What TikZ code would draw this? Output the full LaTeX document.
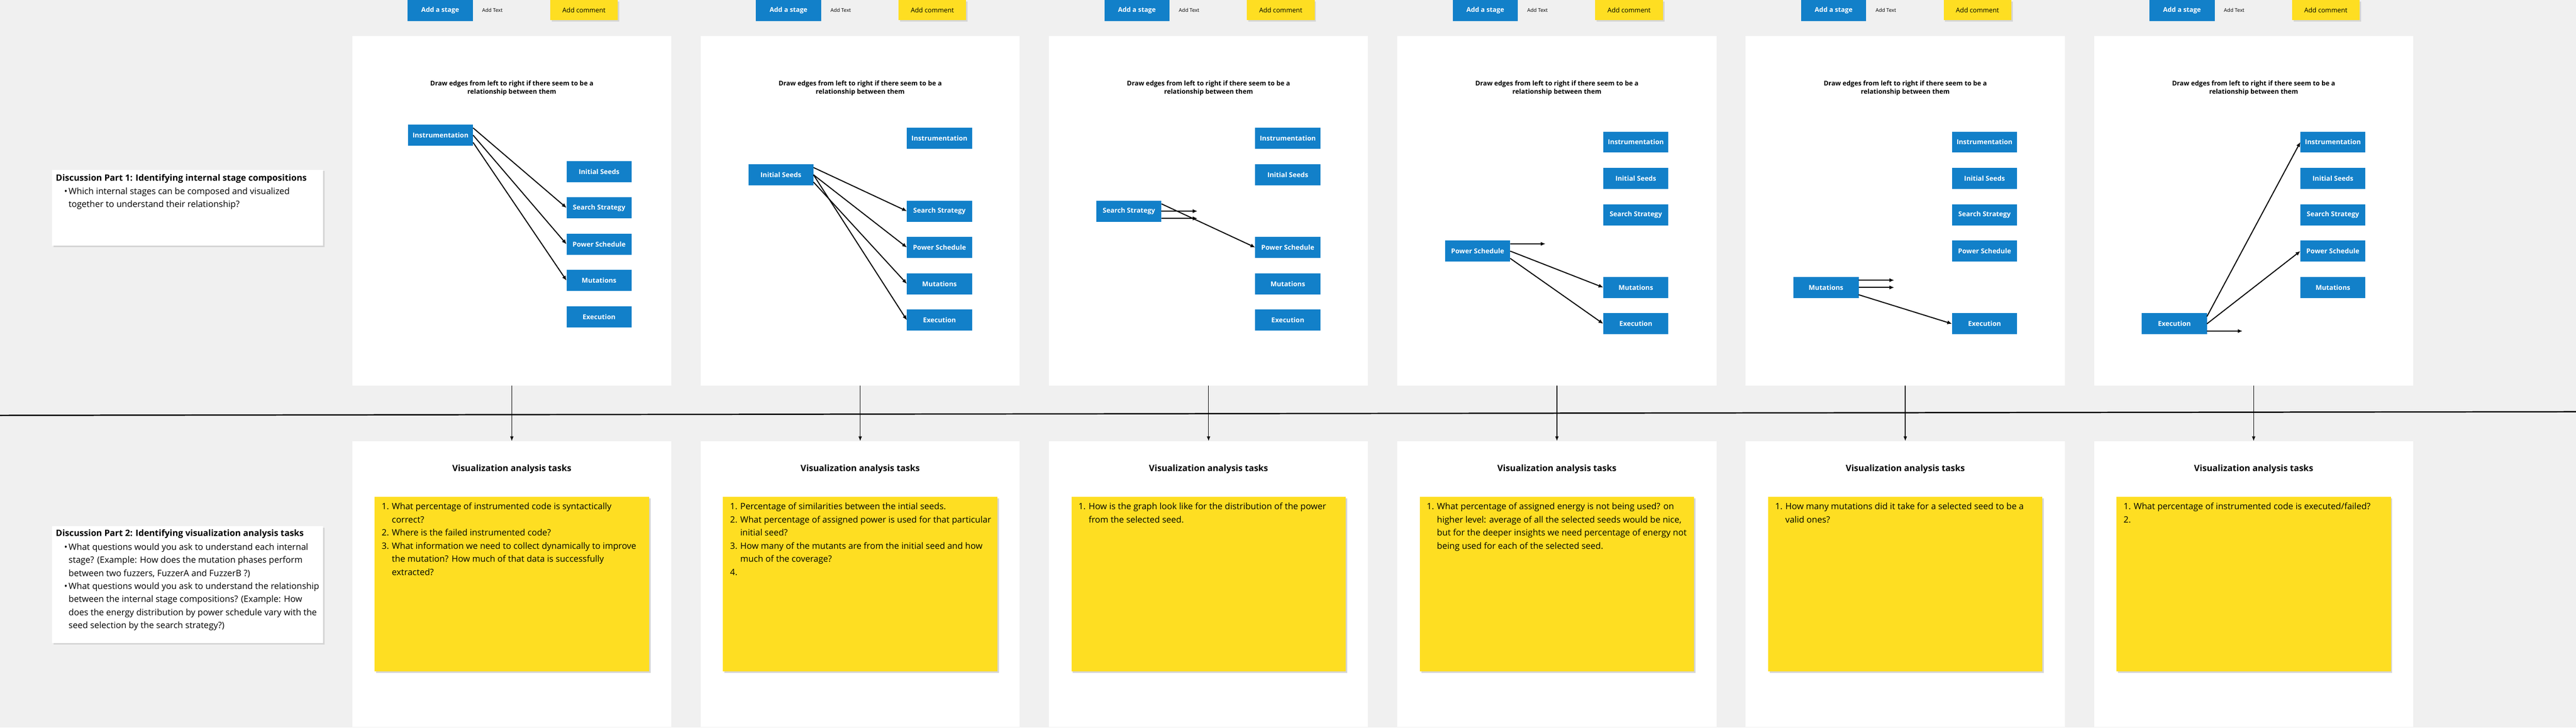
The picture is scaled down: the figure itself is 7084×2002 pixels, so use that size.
\documentclass[tikz,border=0pt]{standalone}
\usepackage{fontspec}
\setmainfont{Open Sans}
\usetikzlibrary{arrows.meta,shadows}

\definecolor{boardgray}{HTML}{F0F0F0}
\definecolor{stageblue}{HTML}{1280C9}
\definecolor{stickyyellow}{HTML}{FEDE22}
\definecolor{shadowgray}{HTML}{D5D5D5}

% hanging indents for the numbered and bulleted lines
\newcommand{\itm}[1]{\makebox[0.28cm][l]{#1}}
\newcommand{\indt}{\hspace*{0.28cm}}
\newcommand{\bul}{\makebox[0.12cm][l]{•}}
\newcommand{\bind}{\hspace*{0.12cm}}

\tikzset{
  panel/.style={fill=white, minimum width=8.77cm, inner sep=0pt, outer sep=0pt},
  stagebox/.style={fill=stageblue, text=white, font=\bfseries\fontsize{5.26pt}{6pt}\selectfont,
    minimum width=1.79cm, minimum height=0.58cm, inner sep=0pt, outer sep=0pt},
  addstage/.style={stagebox, font=\bfseries\fontsize{5.12pt}{6pt}\selectfont},
  addtext/.style={font=\fontsize{3.98pt}{5pt}\selectfont, inner sep=0pt},
  addcomment/.style={fill=stickyyellow, minimum width=1.86cm, minimum height=0.55cm, inner sep=0pt,
    font=\fontsize{5.12pt}{6pt}\selectfont,
    drop shadow={shadow xshift=0.04cm, shadow yshift=-0.04cm, fill=shadowgray, opacity=1}},
  hint/.style={font=\bfseries\fontsize{5.12pt}{6.54pt}\selectfont, align=center, inner sep=0pt},
  edge/.style={line width=0.8pt, -{Latex[length=0.13cm,width=0.11cm]}},
  flow/.style={line width=0.55pt, -{Latex[length=0.13cm,width=0.1cm]}},
  tasktitle/.style={font=\bfseries\fontsize{6.83pt}{8pt}\selectfont, inner sep=0pt},
  sticky/.style={fill=stickyyellow, minimum width=7.54cm, minimum height=4.79cm, inner sep=0pt,
    drop shadow={shadow xshift=0.04cm, shadow yshift=-0.04cm, fill=shadowgray, opacity=1}},
  note/.style={font=\fontsize{6.83pt}{10.243pt}\selectfont, align=left, anchor=north west, inner sep=0pt},
  discbox/.style={fill=white, minimum width=7.45cm, inner sep=0pt,
    drop shadow={shadow xshift=0.04cm, shadow yshift=-0.04cm, fill=shadowgray, opacity=1}},
  disctitle/.style={font=\bfseries\fontsize{6.83pt}{8pt}\selectfont, anchor=west, inner sep=0pt}
}

\begin{document}
\begin{tikzpicture}[x=0.01cm,y=-0.01cm]
\fill[boardgray] (0,0) rectangle (7084,2002);
\useasboundingbox (0,0) rectangle (7084,2002);

% line between the two rows
\draw[line width=1pt] (0,1143) -- (7084,1133);

% discussion notes on the left
\node[discbox, minimum height=2.09cm] (disc1) at (515.5,571.5) {};
\node[disctitle] (disc1title) at (153,491) {Discussion Part 1: Identifying internal stage compositions};
\node[note] (disc1text) at (176,515.4) {\bul Which internal stages can be composed and visualized\\
  \bind together to understand their relationship?};
\node[discbox, minimum height=3.21cm] (disc2) at (515.5,1608.5) {};
\node[disctitle] (disc2title) at (153,1469.5) {Discussion Part 2: Identifying visualization analysis tasks};
\node[note] (disc2text) at (176,1494.4) {\bul What questions would you ask to understand each internal\\
  \bind stage? (Example: How does the mutation phases perform\\
  \bind between two fuzzers, FuzzerA and FuzzerB ?)\\
  \bul What questions would you ask to understand the relationship\\
  \bind between the internal stage compositions? (Example: How\\
  \bind does the energy distribution by power schedule vary with the\\
  \bind seed selection by the search strategy?)};

% stage 1: instrumentation
\node[panel, minimum height=9.61cm] (top1) at (1407.5,580.5) {};
\node[panel, minimum height=7.86cm] (bottom1) at (1407.5,1607) {};
\node[addstage] (stagebtn1) at (1210.5,29) {Add a stage};
\node[addtext] (textbtn1) at (1354,28) {Add Text};
\node[addcomment] (commentbtn1) at (1606,27.5) {Add comment};
\node[hint] (hint1) at (1407.5,242) {Draw edges from left to right if there seem to be a\\relationship between them};
\node[stagebox] (ins1) at (1211.5,372) {Instrumentation};
\node[stagebox] (seed1) at (1647.5,472) {Initial Seeds};
\node[stagebox] (search1) at (1647.5,572) {Search Strategy};
\node[stagebox] (power1) at (1647.5,672) {Power Schedule};
\node[stagebox] (mut1) at (1647.5,772) {Mutations};
\node[stagebox] (exec1) at (1647.5,872) {Execution};
\draw[edge] ([yshift=2mm]ins1.east) -- (search1.west);
\draw[edge] (ins1.east) -- (power1.west);
\draw[edge] ([yshift=-2mm]ins1.east) -- (mut1.west);
\draw[flow] (top1.south) -- (bottom1.north);
\node[tasktitle] (tasks1) at (1407.5,1291) {Visualization analysis tasks};
\node[sticky] (sticky1) at (1407.5,1607.5) {};
\node[note] (note1) at (1049,1383.4) {\itm{1.}What percentage of instrumented code is syntactically\\
  \indt correct?\\
  \itm{2.}Where is the failed instrumented code?\\
  \itm{3.}What information we need to collect dynamically to improve\\
  \indt the mutation? How much of that data is successfully\\
  \indt extracted?};

% stage 2: initial seeds
\node[panel, minimum height=9.61cm] (top2) at (2365.5,580.5) {};
\node[panel, minimum height=7.86cm] (bottom2) at (2365.5,1607) {};
\node[addstage] (stagebtn2) at (2168.5,29) {Add a stage};
\node[addtext] (textbtn2) at (2312,28) {Add Text};
\node[addcomment] (commentbtn2) at (2564,27.5) {Add comment};
\node[hint] (hint2) at (2365.5,242) {Draw edges from left to right if there seem to be a\\relationship between them};
\node[stagebox] (ins2) at (2583.5,381) {Instrumentation};
\node[stagebox] (seed2) at (2147.5,481) {Initial Seeds};
\node[stagebox] (search2) at (2583.5,581) {Search Strategy};
\node[stagebox] (power2) at (2583.5,681) {Power Schedule};
\node[stagebox] (mut2) at (2583.5,781) {Mutations};
\node[stagebox] (exec2) at (2583.5,881) {Execution};
\draw[edge] ([yshift=2mm]seed2.east) -- (search2.west);
\draw[edge] (seed2.east) -- (power2.west);
\draw[edge] (seed2.east) -- (exec2.west);
\draw[edge] ([yshift=-2mm]seed2.east) -- (mut2.west);
\draw[flow] (top2.south) -- (bottom2.north);
\node[tasktitle] (tasks2) at (2365.5,1291) {Visualization analysis tasks};
\node[sticky] (sticky2) at (2365.5,1607.5) {};
\node[note] (note2) at (2007,1383.4) {\itm{1.}Percentage of similarities between the intial seeds.\\
  \itm{2.}What percentage of assigned power is used for that particular\\
  \indt initial seed?\\
  \itm{3.}How many of the mutants are from the initial seed and how\\
  \indt much of the coverage?\\
  \itm{4.}};

% stage 3: search strategy
\node[panel, minimum height=9.61cm] (top3) at (3323.5,580.5) {};
\node[panel, minimum height=7.86cm] (bottom3) at (3323.5,1607) {};
\node[addstage] (stagebtn3) at (3126.5,29) {Add a stage};
\node[addtext] (textbtn3) at (3270,28) {Add Text};
\node[addcomment] (commentbtn3) at (3522,27.5) {Add comment};
\node[hint] (hint3) at (3323.5,242) {Draw edges from left to right if there seem to be a\\relationship between them};
\node[stagebox] (ins3) at (3541.5,381) {Instrumentation};
\node[stagebox] (seed3) at (3541.5,481) {Initial Seeds};
\node[stagebox] (search3) at (3104.5,581) {Search Strategy};
\node[stagebox] (power3) at (3541.5,681) {Power Schedule};
\node[stagebox] (mut3) at (3541.5,781) {Mutations};
\node[stagebox] (exec3) at (3541.5,881) {Execution};
\coordinate (loose3a) at (3293,581);
\coordinate (loose3b) at (3293,601);
\draw[edge] ([yshift=2mm]search3.east) -- (power3.west);
\draw[edge] (search3.east) -- (loose3a);
\draw[edge] ([yshift=-2mm]search3.east) -- (loose3b);
\draw[flow] (top3.south) -- (bottom3.north);
\node[tasktitle] (tasks3) at (3323.5,1291) {Visualization analysis tasks};
\node[sticky] (sticky3) at (3323.5,1607.5) {};
\node[note] (note3) at (2965,1383.4) {\itm{1.}How is the graph look like for the distribution of the power\\
  \indt from the selected seed.};

% stage 4: power schedule
\node[panel, minimum height=9.61cm] (top4) at (4281.5,580.5) {};
\node[panel, minimum height=7.86cm] (bottom4) at (4281.5,1607) {};
\node[addstage] (stagebtn4) at (4084.5,29) {Add a stage};
\node[addtext] (textbtn4) at (4228,28) {Add Text};
\node[addcomment] (commentbtn4) at (4480,27.5) {Add comment};
\node[hint] (hint4) at (4281.5,242) {Draw edges from left to right if there seem to be a\\relationship between them};
\node[stagebox] (ins4) at (4498.5,391) {Instrumentation};
\node[stagebox] (seed4) at (4498.5,491) {Initial Seeds};
\node[stagebox] (search4) at (4498.5,591) {Search Strategy};
\node[stagebox] (power4) at (4063.5,691) {Power Schedule};
\node[stagebox] (mut4) at (4498.5,791) {Mutations};
\node[stagebox] (exec4) at (4498.5,891) {Execution};
\coordinate (loose4) at (4250,671);
\draw[edge] ([yshift=2mm]power4.east) -- (loose4);
\draw[edge] (power4.east) -- (mut4.west);
\draw[edge] ([yshift=-2mm]power4.east) -- (exec4.west);
\draw[flow] (top4.south) -- (bottom4.north);
\node[tasktitle] (tasks4) at (4281.5,1291) {Visualization analysis tasks};
\node[sticky] (sticky4) at (4281.5,1607.5) {};
\node[note] (note4) at (3923,1383.4) {\itm{1.}What percentage of assigned energy is not being used? on\\
  \indt higher level: average of all the selected seeds would be nice,\\
  \indt but for the deeper insights we need percentage of energy not\\
  \indt being used for each of the selected seed.};

% stage 5: mutations
\node[panel, minimum height=9.61cm] (top5) at (5239.5,580.5) {};
\node[panel, minimum height=7.86cm] (bottom5) at (5239.5,1607) {};
\node[addstage] (stagebtn5) at (5042.5,29) {Add a stage};
\node[addtext] (textbtn5) at (5186,28) {Add Text};
\node[addcomment] (commentbtn5) at (5438,27.5) {Add comment};
\node[hint] (hint5) at (5239.5,242) {Draw edges from left to right if there seem to be a\\relationship between them};
\node[stagebox] (ins5) at (5457.5,391) {Instrumentation};
\node[stagebox] (seed5) at (5457.5,491) {Initial Seeds};
\node[stagebox] (search5) at (5457.5,591) {Search Strategy};
\node[stagebox] (power5) at (5457.5,691) {Power Schedule};
\node[stagebox] (mut5) at (5021.5,791) {Mutations};
\node[stagebox] (exec5) at (5457.5,891) {Execution};
\coordinate (loose5a) at (5209,771);
\coordinate (loose5b) at (5209,791);
\draw[edge] ([yshift=2mm]mut5.east) -- (loose5a);
\draw[edge] (mut5.east) -- (loose5b);
\draw[edge] ([yshift=-2mm]mut5.east) -- (exec5.west);
\draw[flow] (top5.south) -- (bottom5.north);
\node[tasktitle] (tasks5) at (5239.5,1291) {Visualization analysis tasks};
\node[sticky] (sticky5) at (5239.5,1607.5) {};
\node[note] (note5) at (4881,1383.4) {\itm{1.}How many mutations did it take for a selected seed to be a\\
  \indt valid ones?};

% stage 6: execution
\node[panel, minimum height=9.61cm] (top6) at (6197.5,580.5) {};
\node[panel, minimum height=7.86cm] (bottom6) at (6197.5,1607) {};
\node[addstage] (stagebtn6) at (6000.5,29) {Add a stage};
\node[addtext] (textbtn6) at (6144,28) {Add Text};
\node[addcomment] (commentbtn6) at (6396,27.5) {Add comment};
\node[hint] (hint6) at (6197.5,242) {Draw edges from left to right if there seem to be a\\relationship between them};
\node[stagebox] (ins6) at (6415.5,391) {Instrumentation};
\node[stagebox] (seed6) at (6415.5,491) {Initial Seeds};
\node[stagebox] (search6) at (6415.5,591) {Search Strategy};
\node[stagebox] (power6) at (6415.5,691) {Power Schedule};
\node[stagebox] (mut6) at (6415.5,791) {Mutations};
\node[stagebox] (exec6) at (5979.5,891) {Execution};
\coordinate (loose6) at (6167,911);
\draw[edge] ([yshift=2mm]exec6.east) -- (ins6.west);
\draw[edge] (exec6.east) -- (power6.west);
\draw[edge] ([yshift=-2mm]exec6.east) -- (loose6);
\draw[flow] (top6.south) -- (bottom6.north);
\node[tasktitle] (tasks6) at (6197.5,1291) {Visualization analysis tasks};
\node[sticky] (sticky6) at (6197.5,1607.5) {};
\node[note] (note6) at (5839,1383.4) {\itm{1.}What percentage of instrumented code is executed/failed?\\
  \itm{2.}};

\end{tikzpicture}
\end{document}
